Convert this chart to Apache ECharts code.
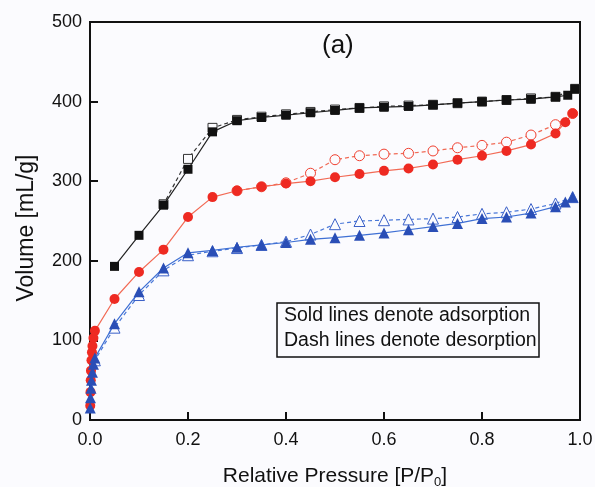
<!DOCTYPE html>
<html>
<head>
<meta charset="utf-8">
<script src="https://cdn.jsdelivr.net/npm/echarts@6/dist/echarts.min.js"></script>
<style>
  html, body { margin: 0; padding: 0; background: #fbfbfe; }
  #chart { width: 595px; height: 487px; }
</style>
</head>
<body>
<div id="chart"></div>
<script>
// N2 sorption isotherms: volume adsorbed vs relative pressure
const xTicks = [0.0, 0.2, 0.4, 0.6, 0.8, 1.0];
const yTicks = [0, 100, 200, 300, 400, 500];

// Sample 1 (black squares)
const blackAdsP = [0.05, 0.1, 0.15, 0.2, 0.25, 0.3, 0.35, 0.4, 0.45, 0.5, 0.55, 0.6, 0.65, 0.7, 0.75, 0.8, 0.85, 0.9, 0.95, 0.975, 0.99];
const blackAdsV = [193, 232, 270, 315, 362, 376, 380, 383, 386, 389, 392, 393, 394, 396, 398, 400, 402, 403, 406, 408, 416];
const blackDesP = [0.99, 0.95, 0.9, 0.85, 0.8, 0.75, 0.7, 0.65, 0.6, 0.55, 0.5, 0.45, 0.4, 0.35, 0.3, 0.25, 0.2, 0.15];
const blackDesV = [416, 406, 404, 402, 400, 398, 396, 395, 394, 392, 390, 387, 384, 381, 377, 367, 328, 271];

// Sample 2 (red circles)
const redAdsP = [0.0005, 0.001, 0.0015, 0.002, 0.003, 0.004, 0.005, 0.007, 0.01, 0.05, 0.1, 0.15, 0.2, 0.25, 0.3, 0.35, 0.4, 0.45, 0.5, 0.55, 0.6, 0.65, 0.7, 0.75, 0.8, 0.85, 0.9, 0.95, 0.97, 0.985];
const redAdsV = [18, 35, 50, 62, 75, 85, 93, 103, 112, 152, 186, 214, 255, 280, 288, 293, 297, 300, 305, 309, 313, 316, 321, 327, 332, 338, 346, 360, 374, 385];
const redDesP = [0.985, 0.95, 0.9, 0.85, 0.8, 0.75, 0.7, 0.65, 0.6, 0.55, 0.5, 0.45, 0.4, 0.35, 0.3];
const redDesV = [385, 371, 358, 349, 345, 342, 338, 335, 334, 332, 327, 310, 298, 293, 288];

// Sample 3 (blue triangles)
const blueAdsP = [0.0005, 0.001, 0.002, 0.003, 0.005, 0.007, 0.01, 0.05, 0.1, 0.15, 0.2, 0.25, 0.3, 0.35, 0.4, 0.45, 0.5, 0.55, 0.6, 0.65, 0.7, 0.75, 0.8, 0.85, 0.9, 0.95, 0.97, 0.985];
const blueAdsV = [15, 28, 40, 50, 60, 70, 78, 121, 161, 191, 210, 213, 217, 220, 223, 227, 229, 232, 235, 239, 243, 247, 253, 255, 260, 268, 274, 280];
const blueDesP = [0.985, 0.95, 0.9, 0.85, 0.8, 0.75, 0.7, 0.65, 0.6, 0.55, 0.5, 0.45, 0.4, 0.35, 0.3, 0.25, 0.2, 0.15, 0.1, 0.05, 0.01];
const blueDesV = [280, 272, 265, 261, 259, 255, 253, 252, 251, 250, 246, 233, 224, 220, 216, 212, 207, 188, 157, 116, 75];

const pairs = (xs, ys) => xs.map((x, i) => [x, ys[i]]);
const FONT = 'Liberation Sans, Arial, sans-serif';

function series(name, xs, ys, opt) {
  return {
    name, type: 'line', data: pairs(xs, ys),
    symbol: opt.symbol, symbolSize: opt.size,
    lineStyle: { color: opt.line, width: 1.2, type: opt.dashed ? [4, 3] : 'solid' },
    itemStyle: opt.open
      ? { color: '#fbfbfe', borderColor: opt.mark, borderWidth: 1 }
      : { color: opt.mark, borderWidth: 0 },
    z: opt.open ? 2 : 3,
    animation: false
  };
}

const chart = echarts.init(document.getElementById('chart'));
chart.setOption({
  backgroundColor: '#fbfbfe',
  animation: false,
  grid: {
    left: 90, right: 15, top: 22, bottom: 67,
    outerBoundsMode: 'none', containLabel: false,
    show: true, borderColor: '#111', borderWidth: 2, backgroundColor: 'transparent'
  },
  xAxis: {
    type: 'value', min: xTicks[0], max: xTicks[xTicks.length - 1], interval: 0.2,
    axisLine: { show: true, lineStyle: { color: '#111', width: 2 } },
    axisTick: { show: true, inside: true, length: 8, lineStyle: { color: '#111', width: 2 } },
    splitLine: { show: false },
    axisLabel: { color: '#111', fontSize: 18, fontFamily: FONT, margin: 11, formatter: v => v.toFixed(1) },
    name: 'Relative Pressure [P/P{sub|0}]',
    nameLocation: 'middle', nameGap: 44,
    nameTextStyle: {
      color: '#111', fontSize: 21, fontFamily: FONT,
      rich: { sub: { fontSize: 13, fontFamily: FONT, color: '#111', verticalAlign: 'bottom', padding: [12, 0, 0, 0] } }
    }
  },
  yAxis: {
    type: 'value', min: yTicks[0], max: yTicks[yTicks.length - 1], interval: 100,
    axisLine: { show: true, lineStyle: { color: '#111', width: 2 } },
    axisTick: { show: true, inside: true, length: 8, lineStyle: { color: '#111', width: 2 } },
    splitLine: { show: false },
    axisLabel: { color: '#111', fontSize: 18, fontFamily: FONT, margin: 8 },
    name: 'Volume [mL/g]',
    nameLocation: 'middle', nameGap: 52, nameRotate: 90,
    nameTextStyle: { color: '#111', fontSize: 23, fontFamily: FONT, padding: [0, 14, 0, 0] }
  },
  graphic: [
    { type: 'text', left: 322, top: 33, style: { text: '(a)', fontSize: 26, fontFamily: FONT, fill: '#111' } },
    { type: 'rect', shape: { x: 277, y: 303, width: 262, height: 54 }, style: { fill: 'transparent', stroke: '#111', lineWidth: 1.5 } },
    { type: 'text', left: 284, top: 306, style: { text: 'Sold lines denote adsorption', fontSize: 19.5, fontFamily: FONT, fill: '#111' } },
    { type: 'text', left: 284, top: 331, style: { text: 'Dash lines denote desorption', fontSize: 19.5, fontFamily: FONT, fill: '#111' } }
  ],
  series: [
    series('blackDes', blackDesP, blackDesV, { symbol: 'rect', size: 9, line: '#333', mark: '#333', open: true, dashed: true }),
    series('redDes', redDesP, redDesV, { symbol: 'circle', size: 10, line: '#f06a55', mark: '#f04030', open: true, dashed: true }),
    series('blueDes', blueDesP, blueDesV, { symbol: 'triangle', size: 11, line: '#4a78d8', mark: '#3a60c8', open: true, dashed: true }),
    series('blackAds', blackAdsP, blackAdsV, { symbol: 'rect', size: 9, line: '#222', mark: '#111' }),
    series('redAds', redAdsP, redAdsV, { symbol: 'circle', size: 10, line: '#f26a55', mark: '#ee2a22' }),
    series('blueAds', blueAdsP, blueAdsV, { symbol: 'triangle', size: 11, line: '#3f70d4', mark: '#2a4eb6' })
  ]
});
</script>
</body>
</html>
